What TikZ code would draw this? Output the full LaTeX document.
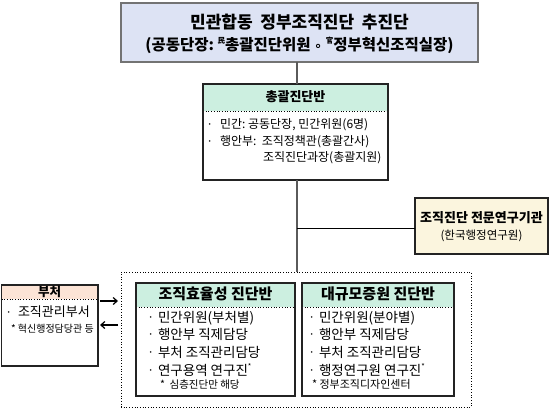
\documentclass[tikz,border=0pt]{standalone}
\usepackage{fontspec}
\setmainfont{Noto Sans CJK KR}
\newfontfamily\symf{DejaVu Sans}
\usetikzlibrary{arrows.meta}
\definecolor{topfill}{RGB}{221,227,244}
\definecolor{mint}{RGB}{204,239,224}
\definecolor{cream}{RGB}{251,245,222}
\definecolor{peach}{RGB}{252,228,214}
\definecolor{edge}{RGB}{35,35,35}
\definecolor{grayedge}{RGB}{115,115,115}
\definecolor{spinec}{RGB}{90,90,90}
\newcommand{\mybul}[2]{\makebox[#1][l]{\raisebox{#2}{\symf\fontsize{5.5}{5.5}\selectfont •}}}
\newcommand{\supch}[1]{\raisebox{0.45em}{\fontsize{7.5}{7.5}\selectfont #1}}
\begin{document}
\begin{tikzpicture}[x=1pt,y=-1pt,
  every node/.style={inner sep=0pt, outer sep=0pt},
  frame/.style={draw=edge, line width=1.1pt, anchor=north west},
  tx/.style={font=\fontsize{#1}{#1}\selectfont, text height={#1pt*0.76}, text depth=0pt},
  hd/.style={font=\bfseries\fontsize{#1}{#1}\selectfont, text height={#1pt*0.76}, text depth=0pt},
  sep/.style={dotted, line width=0.7pt, draw=black},
  link/.style={draw=spinec, line width=1.2pt},
  arr/.style={draw=black, line width=1.2pt, -{Straight Barb[length=4pt,width=7pt]}}
]
\fill[white] (0,0) rectangle (553,410);
\useasboundingbox (0,0) rectangle (553,410);

% top box
\node[draw=grayedge, line width=1.3pt, fill=topfill, anchor=north west,
      minimum width=357pt, minimum height=59pt] (top) at (121,3) {};
\node[hd=17] (t1) at (299.5,22) {민관합동\hspace{0.45em}정부조직진단\hspace{0.45em}추진단};
\node[hd=15.5] (t2) at (299.5,45) {(공동단장:\ \supch{民}총괄진단위원 {\symf\fontsize{13}{13}\selectfont ∘} \supch{官}정부혁신조직실장)};

% central team
\fill[mint] (203,84) rectangle (388,111);
\draw[sep] (203,111) -- (388,111);
\node[frame, minimum width=185pt, minimum height=96pt] (gb) at (203,84) {};
\node[hd=13] (gbh) at (295.5,97) {총괄진단반};
\node[tx=12, anchor=west] (g1) at (208,124) {\mybul{12pt}{2.3pt}민간:\ 공동단장,\ 민간위원(6명)};
\node[tx=12, anchor=west] (g2) at (208,141) {\mybul{12pt}{2.3pt}행안부:\ \ 조직정책관(총괄간사)};
\node[tx=12, anchor=west] (g3) at (263,157) {조직진단과장(총괄지원)};

% research institute
\node[frame, fill=cream, minimum width=133pt, minimum height=56pt] (rb) at (415,198) {};
\node[hd=13] (r1) at (481.5,218) {조직진단\ 전문연구기관};
\node[tx=11.5] (r2) at (481.5,235) {(한국행정연구원)};

% ministries
\fill[peach] (1.5,285) rectangle (98,299);
\draw[sep] (1.5,299) -- (98,299);
\node[frame, minimum width=96.5pt, minimum height=81pt] (bb) at (1.5,285) {};
\node[hd=12.5] (bbh) at (49.5,292) {부처};
\node[tx=13, anchor=west] (b1) at (7,312) {\mybul{11pt}{2.8pt}조직관리부서};
\node[tx=10, anchor=west] (b2) at (11,329) {*\ 혁신행정담당관\ 등};

% outer dotted group
\node[draw=black, dotted, line width=0.7pt, anchor=north west,
      minimum width=350pt, minimum height=135pt] (ob) at (121,272) {};

% team 1
\fill[mint] (136,283) rectangle (295,307);
\draw[sep] (136,307) -- (295,307);
\node[frame, minimum width=159pt, minimum height=113pt] (ib1) at (136,283) {};
\node[hd=15] (i1h) at (215.5,294) {조직효율성\ 진단반};
\node[tx=13.5, anchor=west] (i1a) at (149,317) {\mybul{9pt}{3pt}민간위원(부처별)};
\node[tx=13.5, anchor=west] (i1b) at (149,334.5) {\mybul{9pt}{3pt}행안부\ 직제담당};
\node[tx=13.5, anchor=west] (i1c) at (149,352.5) {\mybul{9pt}{3pt}부처\ 조직관리담당};
\node[tx=13.5, anchor=west] (i1d) at (149,370.5) {\mybul{9pt}{3pt}연구용역\ 연구진\supch{*}};
\node[tx=10.5, anchor=west] (i1e) at (160,384.5) {*\ \ 심층진단만\ 해당};

% team 2
\fill[mint] (302,283) rectangle (454,307);
\draw[sep] (302,307) -- (454,307);
\node[frame, minimum width=152pt, minimum height=113pt] (ib2) at (302,283) {};
\node[hd=15] (i2h) at (378,294) {대규모증원\ 진단반};
\node[tx=13.5, anchor=west] (i2a) at (310,317) {\mybul{9pt}{3pt}민간위원(분야별)};
\node[tx=13.5, anchor=west] (i2b) at (310,334.5) {\mybul{9pt}{3pt}행안부\ 직제담당};
\node[tx=13.5, anchor=west] (i2c) at (310,352.5) {\mybul{9pt}{3pt}부처\ 조직관리담당};
\node[tx=13.5, anchor=west] (i2d) at (310,370.5) {\mybul{9pt}{3pt}행정연구원\ 연구진\supch{*}};
\node[tx=11, anchor=west] (i2e) at (312,384.5) {*\ 정부조직디자인센터};

% connectors
\coordinate (spine) at (297,228);
\draw[link] (top.south -| spine) -- (gb.north -| spine);
\draw[link] (gb.south -| spine) -- (ob.north -| spine);
\draw[draw=black, line width=1pt] (spine) -- (rb.west |- spine);
\coordinate (a1) at (0,301);
\coordinate (a2) at (0,325);
\draw[arr, shorten <=2pt, shorten >=3pt] (bb.east |- a1) -- (ob.west |- a1);
\draw[arr, shorten <=3pt, shorten >=2pt] (ob.west |- a2) -- (bb.east |- a2);
\end{tikzpicture}
\end{document}
